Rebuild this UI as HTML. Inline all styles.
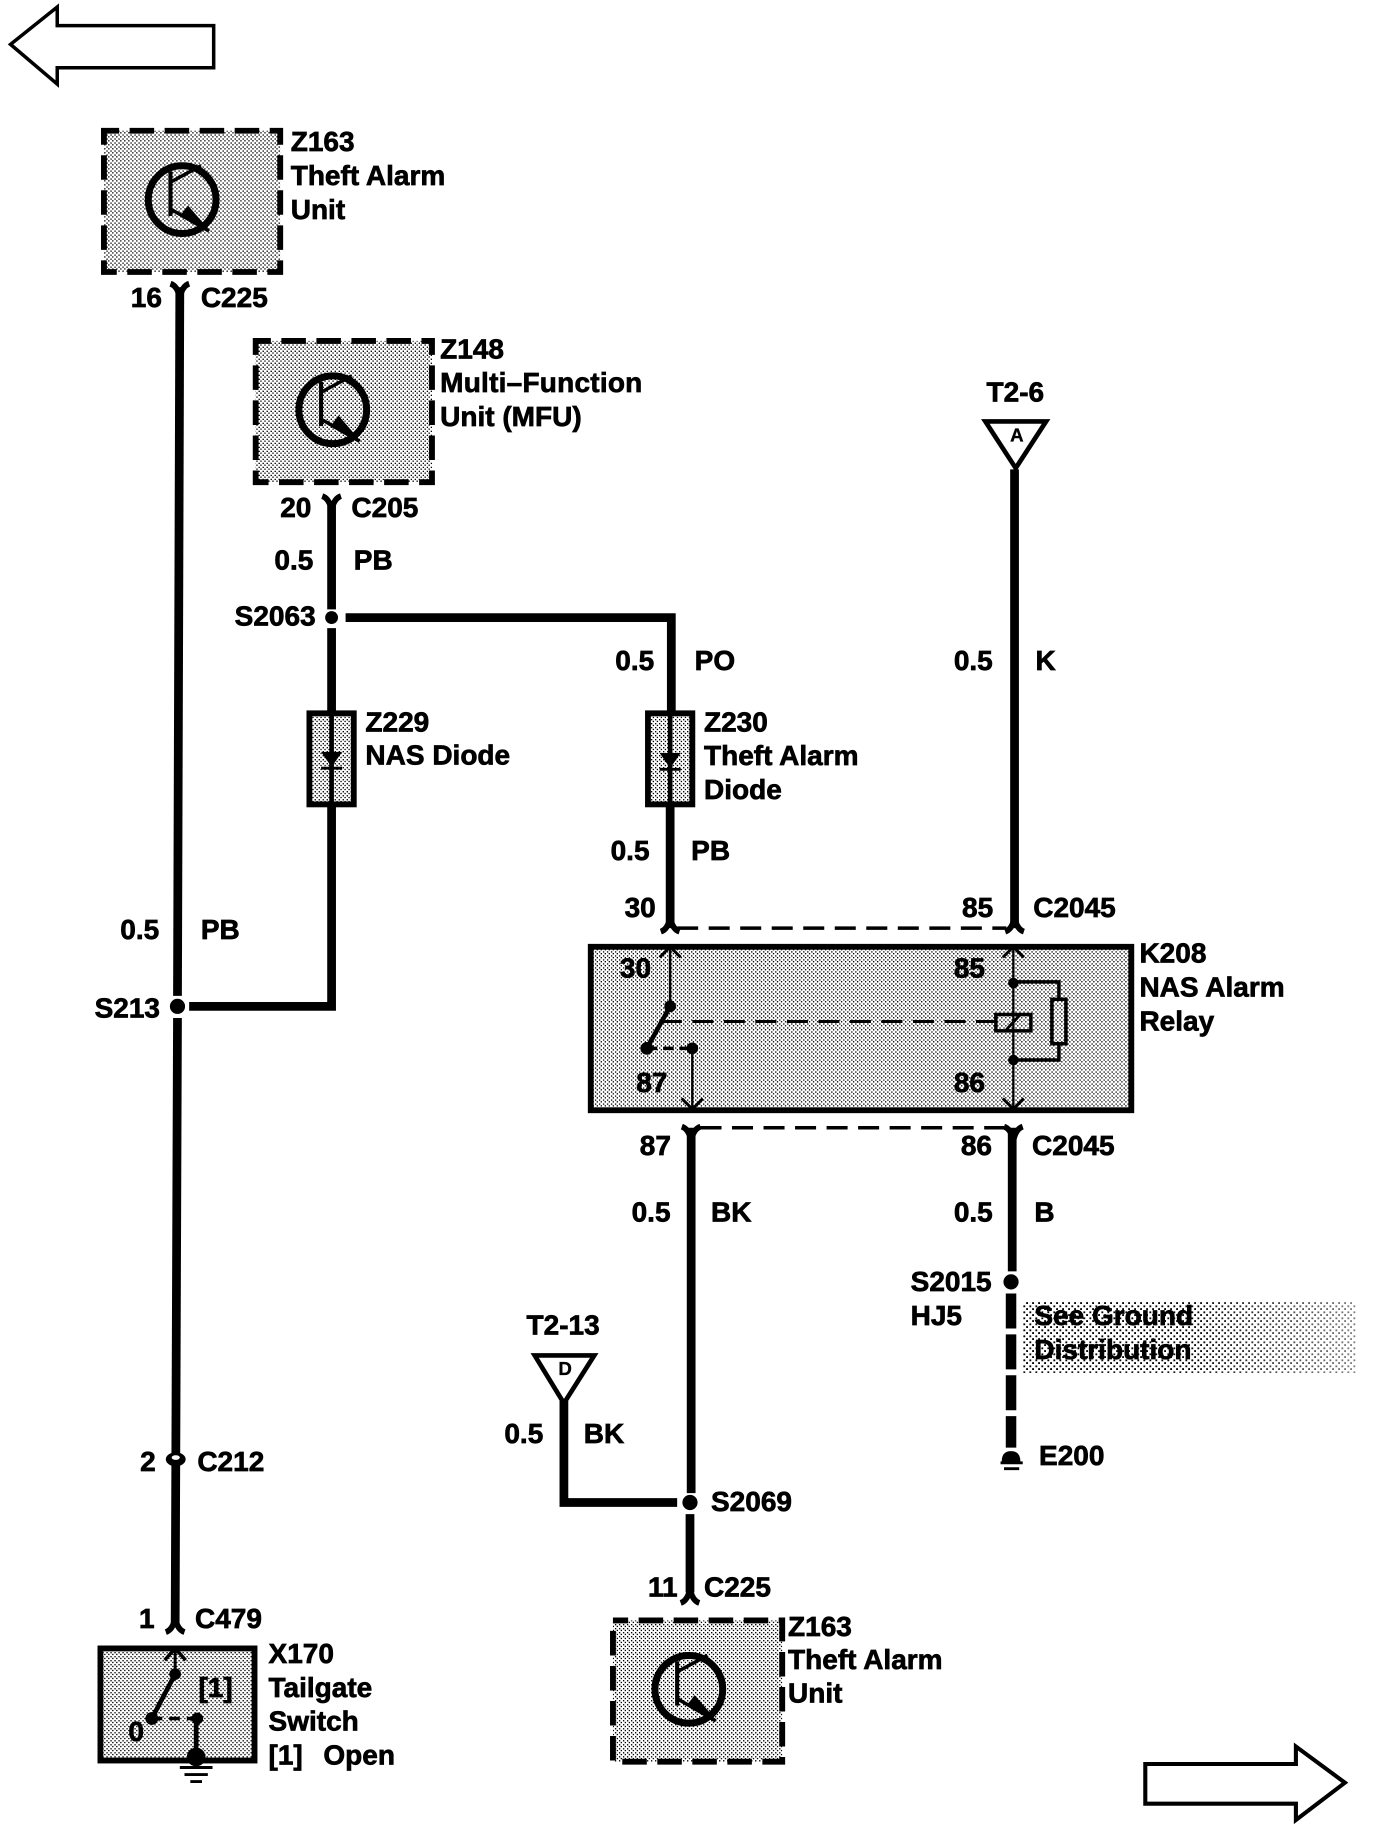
<!DOCTYPE html>
<html><head><meta charset="utf-8"><style>
html,body{margin:0;padding:0;background:#fff}
svg{display:block}
text{font-family:"Liberation Sans",sans-serif;font-weight:bold;font-size:24px;fill:#000;stroke:#000;stroke-width:.6px}
</style></head><body>
<svg xmlns="http://www.w3.org/2000/svg" width="1376" height="1830" viewBox="0 0 1180 1569.4">
<defs>
<pattern id="st" patternUnits="userSpaceOnUse" width="3.43" height="3.43"><rect width="3.43" height="3.43" fill="#fff"/><g shape-rendering="crispEdges"><rect x="0" y="0" width="1.25" height="1.25" fill="#000"/><rect x="1.715" y="1.715" width="1.25" height="1.25" fill="#000"/></g></pattern>
<pattern id="st2" patternUnits="userSpaceOnUse" width="5.14" height="5.14"><rect width="5.14" height="5.14" fill="#fff"/><g shape-rendering="crispEdges"><rect x="0" y="0" width="1.7" height="1.7" fill="#000"/><rect x="2.57" y="2.57" width="1.7" height="1.7" fill="#000"/></g></pattern>
<linearGradient id="fade" x1="0" x2="1" y1="0" y2="0"><stop offset="0" stop-color="#fff" stop-opacity="0"/><stop offset=".5" stop-color="#fff" stop-opacity="0"/><stop offset="1" stop-color="#fff" stop-opacity=".5"/></linearGradient>
<g id="tr" fill="none" stroke="#000">
<circle cx="0" cy="0" r="29" stroke-width="6"/>
<path d="M-10,-24V14" stroke-width="3.5"/>
<path d="M-10,-15L16,-29" stroke-width="3"/>
<path d="M-10,8L23,27" stroke-width="3"/>
<path d="M-2,14L5,5L24,27Z" fill="#000" stroke="none"/>
</g>
<path id="fu" d="M-8,-7Q-2,-5 0,5Q2,-5 8,-7" fill="none" stroke="#000" stroke-width="5"/>
<path id="fd" d="M-8,7Q-2,5 0,-5Q2,5 8,7" fill="none" stroke="#000" stroke-width="5"/>
</defs>
<g transform="scale(1.0012)">

<!-- page arrows -->
<path d="M9,38L49,6V22H183V58H49V72Z" fill="#fff" stroke="#000" stroke-width="3"/>
<path d="M981,1511H1110V1496L1152,1527L1110,1559V1545H981Z" fill="#fff" stroke="#000" stroke-width="3.5"/>

<!-- boxes -->
<g stroke="#000" stroke-width="5" stroke-dasharray="21,9" stroke-dashoffset="8" fill="url(#st)">
<rect x="89" y="112" width="151" height="121"/>
<rect x="219" y="292" width="151" height="121"/>
<rect x="525" y="1388" width="145" height="121"/>
</g>
<use href="#tr" x="156" y="171"/>
<use href="#tr" x="285" y="351"/>
<use href="#tr" x="590" y="1447"/>
<rect x="506" y="811" width="463" height="140" fill="url(#st)" stroke="#000" stroke-width="5"/>
<rect x="86" y="1412" width="132" height="96" fill="url(#st)" stroke="#000" stroke-width="5"/>
<rect x="876" y="1115" width="285" height="61" fill="url(#st2)"/>
<rect x="876" y="1115" width="285" height="61" fill="url(#fade)"/>

<!-- main wires -->
<g fill="none" stroke="#000" stroke-width="7.5">
<path d="M154,246L152,853"/>
<path d="M152,872L150,1394"/>
<path d="M162,862H284V690"/>
<path d="M284,430V522"/>
<path d="M284,538V612"/>
<path d="M296,529H575V612"/>
<path d="M574,688V795"/>
<path d="M869,402V795"/>
<path d="M592,966V1279"/>
<path d="M591,1297V1364"/>
<path d="M867,966V1089"/>
<path d="M866,1108V1240" stroke-width="9" stroke-dasharray="30,5"/>
<path d="M483,1200V1287H580"/>
</g>
<!-- splices -->
<g fill="#000"><circle cx="152" cy="862" r="6.5"/><circle cx="284" cy="529" r="5.5"/><circle cx="591" cy="1287" r="6.5"/><circle cx="866" cy="1098" r="6.5"/></g>

<!-- connectors -->
<use href="#fu" x="154" y="250"/>
<use href="#fu" x="284" y="432"/>
<use href="#fu" x="592" y="972"/>
<use href="#fu" x="868" y="972"/>
<use href="#fd" x="574" y="791"/>
<use href="#fd" x="869" y="791"/>
<use href="#fd" x="150" y="1391"/>
<use href="#fd" x="591" y="1366"/>
<ellipse cx="150.5" cy="1250" rx="8.5" ry="6" fill="#000"/>
<ellipse cx="150.5" cy="1248.5" rx="3.5" ry="2" fill="#fff"/>
<path d="M580,795H862M600,966H860" stroke="#000" stroke-width="3" stroke-dasharray="18,9" fill="none"/>

<!-- diodes -->
<g fill="url(#st)" stroke="#000" stroke-width="5">
<rect x="265" y="611" width="38" height="78"/>
<rect x="555" y="611" width="38" height="78"/>
</g>
<path d="M284,611V689M574,611V689" stroke="#000" stroke-width="4"/>
<path d="M275,644H293L284,657ZM565,645H583L574,658Z" fill="#000"/>
<path d="M275,658H293M565,659H583" stroke="#000" stroke-width="2.5"/>

<!-- triangles -->
<path d="M844,361H896L870,401Z" fill="#fff" stroke="#000" stroke-width="4"/>
<path d="M458,1161H509L483,1202Z" fill="#fff" stroke="#000" stroke-width="4"/>
<text x="871" y="378" text-anchor="middle" style="font-size:16px;stroke-width:.3px">A</text>
<text x="484" y="1178" text-anchor="middle" style="font-size:16px;stroke-width:.3px">D</text>

<!-- relay internals -->
<g fill="none" stroke="#000">
<path d="M574,812V862M593,898V950M868,812V950" stroke-width="2"/>
<path d="M565,820L574,811L583,820M584,941L593,950L602,941M859,820L868,811L877,820M859,941L868,950L877,941" stroke-width="2.5"/>
<path d="M574,862L554,898" stroke-width="4"/>
<path d="M554,898H593" stroke-width="3" stroke-dasharray="9,5"/>
<path d="M566,875H852" stroke-width="2.5" stroke-dasharray="18,9"/>
<rect x="853" y="869" width="30" height="14" fill="none" stroke-width="3"/>
<path d="M862,882L874,869" stroke-width="2.5"/>
<path d="M868,841H907V856M907,894V908H868" stroke-width="3"/>
<rect x="901" y="856" width="12" height="38" stroke-width="3"/>
</g>
<g fill="#000"><circle cx="574" cy="862" r="5"/><circle cx="554" cy="898" r="5.5"/><circle cx="593" cy="898" r="5"/><circle cx="868" cy="842" r="4.5"/><circle cx="868" cy="908" r="4.5"/></g>

<!-- switch internals -->
<g fill="none" stroke="#000">
<path d="M150,1412V1434" stroke-width="2.5"/>
<path d="M141,1422L150,1412L159,1422" stroke-width="3"/>
<path d="M150,1434L130,1472" stroke-width="4"/>
<path d="M130,1472H169" stroke-width="3" stroke-dasharray="9,6"/>
<path d="M168,1472V1505" stroke-width="4"/>
</g>
<g fill="#000"><circle cx="150" cy="1434" r="5"/><circle cx="130" cy="1472" r="5.5"/><circle cx="169" cy="1472" r="5"/><circle cx="168" cy="1505" r="8"/></g>
<path d="M154,1514H182M158,1520H178M163,1526H173" stroke="#000" stroke-width="2.5"/>

<!-- ground E200 -->
<path d="M858,1252Q858,1243 866,1243Q874,1243 874,1252Z" fill="#000"/>
<path d="M857,1253H876M860,1258H873" stroke="#000" stroke-width="2.5"/>

<!-- labels -->
<text x="249" y="129.5">Z163</text><text x="249" y="158.5">Theft Alarm</text><text x="249" y="187.5">Unit</text>
<text x="112" y="263">16</text><text x="172" y="263">C225</text>
<text x="377" y="307">Z148</text><text x="377" y="336" style="letter-spacing:.2px">Multi–Function</text><text x="377" y="365">Unit (MFU)</text>
<text x="240" y="443">20</text><text x="301" y="443">C205</text>
<text x="235" y="488">0.5</text><text x="303" y="488">PB</text>
<text x="201" y="536">S2063</text>
<text x="527" y="574">0.5</text><text x="595" y="574">PO</text>
<text x="817" y="574">0.5</text><text x="887" y="574">K</text>
<text x="845" y="344">T2-6</text>
<text x="313" y="626.5">Z229</text><text x="313" y="655">NAS Diode</text>
<text x="603" y="626.5">Z230</text><text x="603" y="655.5">Theft Alarm</text><text x="603" y="684.5">Diode</text>
<text x="523" y="736.5">0.5</text><text x="592" y="736.5">PB</text>
<text x="103" y="804.5">0.5</text><text x="172" y="804.5">PB</text>
<text x="81" y="871.5">S213</text>
<text x="535" y="785.5">30</text><text x="824" y="785.5">85</text><text x="885" y="785.5">C2045</text>
<text x="976" y="824.5">K208</text><text x="976" y="853.5">NAS Alarm</text><text x="976" y="882.5">Relay</text>
<text x="531" y="837.5">30</text><text x="817" y="837.5">85</text><text x="545" y="935.5">87</text><text x="817" y="935.5">86</text>
<text x="548" y="989.5">87</text><text x="823" y="989.5">86</text><text x="884" y="989.5">C2045</text>
<text x="541" y="1046.5">0.5</text><text x="609" y="1046.5">BK</text>
<text x="817" y="1046.5">0.5</text><text x="886" y="1046.5">B</text>
<text x="780" y="1106">S2015</text><text x="780" y="1135">HJ5</text>
<text x="886" y="1135">See Ground</text><text x="886" y="1164">Distribution</text>
<text x="451" y="1143">T2-13</text>
<text x="432" y="1236">0.5</text><text x="500" y="1236">BK</text>
<text x="890" y="1255">E200</text>
<text x="120" y="1260">2</text><text x="169" y="1260">C212</text>
<text x="609" y="1294.5">S2069</text>
<text x="555" y="1367.5">11</text><text x="603" y="1367.5">C225</text>
<text x="119" y="1394.5">1</text><text x="167" y="1394.5">C479</text>
<text x="675" y="1401.5">Z163</text><text x="675" y="1429.5">Theft Alarm</text><text x="675" y="1458.5">Unit</text>
<text x="230" y="1424.5">X170</text><text x="230" y="1453.5">Tailgate</text><text x="230" y="1482.5">Switch</text><text x="230" y="1511.5">[1]</text><text x="277" y="1511.5">Open</text>
<text x="170" y="1453.5">[1]</text><text x="110" y="1491.5">0</text>
</g>
</svg>
</body></html>
